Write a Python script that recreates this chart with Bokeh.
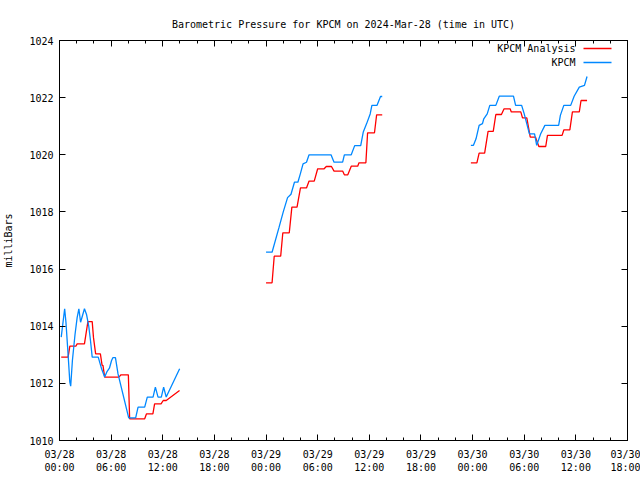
import math
from bokeh.plotting import figure
from bokeh.models import Range1d, FixedTicker, LinearAxis, Label, BoxAnnotation
from bokeh.embed import file_html
from bokeh.resources import INLINE

FONT = "DejaVu Sans Mono"

title_text = "Barometric Pressure for KPCM on 2024-Mar-28 (time in UTC)"
y_label = "milliBars"
series_names = ["KPCM Analysis", "KPCM"]
series_colors = ["#ff0000", "#0088ff"]
x_tick_hours = [0, 6, 12, 18, 24, 30, 36, 42, 48, 54, 60, 66]
x_tick_labels = ["03/28\n00:00", "03/28\n06:00", "03/28\n12:00", "03/28\n18:00",
                 "03/29\n00:00", "03/29\n06:00", "03/29\n12:00", "03/29\n18:00",
                 "03/30\n00:00", "03/30\n06:00", "03/30\n12:00", "03/30\n18:00"]
x_minor_hours = [h for h in range(0, 67, 2)]
y_ticks = [1010, 1012, 1014, 1016, 1018, 1020, 1022, 1024]

# KPCM Analysis (hours since 03/28 00:00 UTC, millibars), three segments
analysis_hours_1 = [0.2, 1.0, 1.2, 1.9, 2.05, 2.9, 3.3, 3.8, 3.95, 4.2, 4.75, 4.95, 5.05, 5.25,
                    6.9, 7.15, 8.0, 8.15, 9.9, 10.1, 10.85, 11.05, 11.8, 12.05, 12.4, 13.95]
analysis_mb_1 = [1012.92, 1012.92, 1013.3, 1013.3, 1013.38, 1013.38, 1014.16, 1014.16, 1013.6,
                 1013.03, 1013.03, 1012.63, 1012.63, 1012.22, 1012.22, 1012.3, 1012.3, 1010.76,
                 1010.76, 1010.93, 1010.93, 1011.28, 1011.28, 1011.4, 1011.4, 1011.75]
analysis_hours_2 = [24.0, 24.7, 24.95, 25.7, 25.95, 26.7, 27.0, 27.6, 28.0, 28.7, 29.0, 29.6,
                    30.0, 30.75, 31.0, 31.6, 31.9, 32.9, 33.1, 33.5, 33.9, 34.65, 34.8, 35.6,
                    35.8, 36.6, 36.85, 37.5]
analysis_mb_2 = [1015.52, 1015.52, 1016.45, 1016.45, 1017.27, 1017.27, 1018.17, 1018.17,
                 1018.84, 1018.84, 1019.08, 1019.08, 1019.51, 1019.51, 1019.59, 1019.59,
                 1019.43, 1019.43, 1019.3, 1019.3, 1019.6, 1019.6, 1019.72, 1019.72,
                 1020.77, 1020.77, 1021.4, 1021.4]
analysis_hours_3 = [47.8, 48.5, 48.76, 49.4, 49.8, 50.4, 50.7, 51.35, 51.66, 52.36, 52.5, 53.6,
                    53.8, 54.3, 54.7, 55.3, 55.7, 56.5, 56.7, 58.4, 58.6, 59.3, 59.6, 60.4,
                    60.6, 61.3]
analysis_mb_3 = [1019.72, 1019.72, 1020.06, 1020.06, 1020.82, 1020.82, 1021.41, 1021.41,
                 1021.61, 1021.61, 1021.5, 1021.5, 1021.29, 1021.29, 1020.62, 1020.62,
                 1020.29, 1020.29, 1020.68, 1020.68, 1020.87, 1020.87, 1021.5, 1021.5,
                 1021.9, 1021.9]

# KPCM observations
obs_hours_1 = [0.2, 0.6, 0.75, 1.0, 1.2, 1.3, 1.5, 1.8, 2.05, 2.25, 2.45, 2.7, 2.9, 3.15, 3.4,
               3.6, 3.8, 4.5, 4.9, 5.25, 5.5, 5.8, 6.05, 6.2, 6.5, 6.8, 8.04, 8.85, 9.13, 9.9,
               10.2, 10.87, 11.14, 11.45, 11.83, 12.1, 12.4, 13.96]
obs_mb_1 = [1013.62, 1014.61, 1014.14, 1013.0, 1012.04, 1011.9, 1012.8, 1013.7, 1014.3,
            1014.61, 1014.14, 1014.4, 1014.61, 1014.4, 1014.0, 1013.5, 1012.92, 1012.92,
            1012.5, 1012.22, 1012.4, 1012.53, 1012.8, 1012.9, 1012.9, 1012.33, 1010.79,
            1010.79, 1011.17, 1011.17, 1011.52, 1011.52, 1011.87, 1011.52, 1011.52, 1011.87,
            1011.52, 1012.51]
obs_hours_2 = [24.0, 24.7, 25.5, 26.0, 26.5, 26.9, 27.3, 27.7, 28.0, 28.3, 28.7, 29.0, 31.55,
               31.9, 32.9, 33.1, 33.9, 34.3, 35.0, 35.3, 35.7, 36.1, 36.3, 36.9, 37.3, 37.5]
obs_mb_2 = [1016.59, 1016.59, 1017.45, 1018.0, 1018.5, 1018.62, 1019.04, 1019.04, 1019.35,
            1019.68, 1019.74, 1020.0, 1020.0, 1019.74, 1019.74, 1020.0, 1020.0, 1020.32,
            1020.32, 1020.8, 1021.1, 1021.43, 1021.73, 1021.73, 1022.04, 1022.04]
obs_hours_3 = [47.8, 48.1, 48.4, 48.76, 49.15, 49.3, 49.7, 50.0, 50.7, 51.1, 52.75, 53.0, 53.7,
               54.0, 54.4, 54.6, 55.2, 55.45, 55.9, 56.4, 58.0, 58.2, 58.6, 59.4, 59.8, 60.4,
               61.0, 61.3]
obs_mb_3 = [1020.33, 1020.33, 1020.56, 1021.03, 1021.09, 1021.26, 1021.43, 1021.73, 1021.73,
            1022.05, 1022.05, 1021.73, 1021.73, 1021.43, 1020.97, 1020.73, 1020.73, 1020.33,
            1020.73, 1021.03, 1021.03, 1021.38, 1021.73, 1021.73, 1022.05, 1022.37, 1022.43,
            1022.74]


def join(*segs):
    xs, ys = [], []
    for i, (hx, my) in enumerate(segs):
        if i:
            xs.append(math.nan)
            ys.append(math.nan)
        xs.extend(hx)
        ys.extend(my)
    return xs, ys


ax, ay = join((analysis_hours_1, analysis_mb_1), (analysis_hours_2, analysis_mb_2),
              (analysis_hours_3, analysis_mb_3))
ox, oy = join((obs_hours_1, obs_mb_1), (obs_hours_2, obs_mb_2), (obs_hours_3, obs_mb_3))

p = figure(width=640, height=480, output_backend="svg", toolbar_location=None,
           x_range=Range1d(0, 66), y_range=Range1d(1010, 1024),
           min_border_left=58, min_border_right=13, min_border_top=40, min_border_bottom=40,
           title=title_text)
p.title.align = "center"
p.title.text_font = FONT
p.title.text_font_size = "10px"
p.title.text_font_style = "normal"
p.title.text_color = "black"
p.title.standoff = 21
p.grid.visible = False
p.outline_line_color = "black"
p.outline_line_width = 1
p.background_fill_color = "white"
p.border_fill_color = "white"

p.line(ax, ay, line_color=series_colors[0], line_width=1.3)
p.line(ox, oy, line_color=series_colors[1], line_width=1.3)

xt = FixedTicker(ticks=x_tick_hours, minor_ticks=x_minor_hours)
yt = FixedTicker(ticks=y_ticks, minor_ticks=[])

xa = p.xaxis[0]
xa.ticker = xt
xa.major_label_overrides = {h: lab for h, lab in zip(x_tick_hours, x_tick_labels)}
ya = p.yaxis[0]
ya.ticker = yt
ya.axis_label = y_label

for a in (xa, ya):
    a.major_tick_in = 6
    a.major_tick_out = 0
    a.minor_tick_in = 3
    a.minor_tick_out = 0
    a.axis_line_color = "black"
    a.major_label_text_font = FONT
    a.major_label_text_font_size = "10px"
    a.major_label_text_color = "black"
    a.axis_label_text_font = FONT
    a.axis_label_text_font_size = "10px"
    a.axis_label_text_font_style = "normal"
    a.axis_label_text_color = "black"
xa.major_label_standoff = 8
ya.major_label_standoff = 6
ya.axis_label_standoff = 12

top = LinearAxis(ticker=xt, major_tick_in=6, major_tick_out=0, minor_tick_in=3,
                 minor_tick_out=0, major_label_text_font_size="1px",
                 major_label_text_color=None, major_label_standoff=0)
right = LinearAxis(ticker=yt, major_tick_in=6, major_tick_out=0, minor_tick_in=0,
                   minor_tick_out=0, major_label_text_font_size="1px",
                   major_label_text_color=None, major_label_standoff=0)
p.add_layout(top, "above")
p.add_layout(right, "right")

# gnuplot-style key: right-aligned text followed by a line sample (screen units, frame-relative)
frame_w, frame_h = 569, 400
for i, (name, col) in enumerate(zip(series_names, series_colors)):
    yc = frame_h - 8 - 14 * i
    p.add_layout(Label(x=frame_w - 53, y=yc, x_units="screen", y_units="screen", text=name,
                       text_align="right", text_baseline="middle", text_font=FONT,
                       text_font_size="10px", text_color="black"))
    p.add_layout(BoxAnnotation(left=frame_w - 45, right=frame_w - 17, bottom=yc - 0.65,
                               top=yc + 0.65, left_units="screen", right_units="screen",
                               bottom_units="screen", top_units="screen",
                               fill_color=col, fill_alpha=1, line_alpha=0))

open("out.html", "w").write(file_html(p, INLINE))
